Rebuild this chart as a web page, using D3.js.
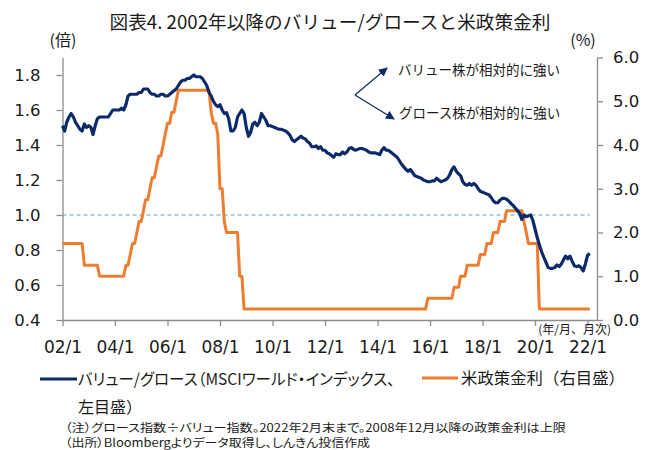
<!DOCTYPE html>
<html>
<head>
<meta charset="utf-8">
<script src="https://cdn.jsdelivr.net/npm/d3@7"></script>
<style>
  body { margin: 0; background: #fff; }
  svg { display: block; }
  .jp { font-family: "Noto Sans CJK JP", sans-serif; fill: #1a1a1a; }
  .palt { font-feature-settings: "palt"; }
  .tick text { font-family: "DejaVu Sans", Verdana, sans-serif; fill: #1a1a1a; }
</style>
</head>
<body>
<div id="chart"></div>
<script>

// value / growth ratio (MSCI World), monthly 2002/1 - 2022/2, left axis
var ratio2002 = [1.51, 1.48, 1.53, 1.56, 1.58, 1.56, 1.53, 1.51, 1.49, 1.48, 1.52, 1.50];
var ratio2003 = [1.51, 1.50, 1.46, 1.51, 1.55, 1.56, 1.56, 1.56, 1.56, 1.56, 1.58, 1.60];
var ratio2004 = [1.60, 1.60, 1.60, 1.61, 1.60, 1.63, 1.68, 1.69, 1.69, 1.69, 1.69, 1.70];
var ratio2005 = [1.70, 1.72, 1.72, 1.72, 1.70, 1.69, 1.69, 1.68, 1.68, 1.69, 1.69, 1.68];
var ratio2006 = [1.68, 1.69, 1.70, 1.71, 1.72, 1.74, 1.76, 1.77, 1.77, 1.78, 1.78, 1.79];
var ratio2007 = [1.80, 1.79, 1.79, 1.79, 1.78, 1.76, 1.74, 1.70, 1.68, 1.65, 1.63, 1.62];
var ratio2008 = [1.63, 1.60, 1.58, 1.585, 1.55, 1.48, 1.48, 1.50, 1.56, 1.58, 1.60, 1.58];
var ratio2009 = [1.50, 1.45, 1.47, 1.52, 1.53, 1.51, 1.53, 1.58, 1.56, 1.54, 1.51, 1.51];
var ratio2010 = [1.505, 1.50, 1.495, 1.49, 1.49, 1.485, 1.48, 1.47, 1.455, 1.43, 1.42, 1.43];
var ratio2011 = [1.44, 1.45, 1.44, 1.435, 1.42, 1.41, 1.39, 1.39, 1.395, 1.38, 1.39, 1.37];
var ratio2012 = [1.37, 1.355, 1.35, 1.34, 1.33, 1.35, 1.345, 1.345, 1.36, 1.35, 1.36, 1.38];
var ratio2013 = [1.385, 1.375, 1.37, 1.375, 1.38, 1.38, 1.375, 1.37, 1.36, 1.355, 1.355, 1.355];
var ratio2014 = [1.35, 1.345, 1.37, 1.385, 1.37, 1.37, 1.36, 1.35, 1.34, 1.33, 1.31, 1.29];
var ratio2015 = [1.275, 1.26, 1.25, 1.26, 1.245, 1.225, 1.22, 1.215, 1.21, 1.20, 1.195, 1.19];
var ratio2016 = [1.19, 1.195, 1.195, 1.21, 1.20, 1.19, 1.195, 1.20, 1.21, 1.23, 1.26, 1.275];
var ratio2017 = [1.25, 1.235, 1.225, 1.19, 1.175, 1.17, 1.18, 1.17, 1.18, 1.17, 1.15, 1.135];
var ratio2018 = [1.13, 1.125, 1.12, 1.115, 1.10, 1.08, 1.07, 1.07, 1.085, 1.095, 1.095, 1.09];
var ratio2019 = [1.08, 1.065, 1.055, 1.04, 1.025, 1.01, 0.975, 1.0, 0.99, 0.995, 1.0, 0.97];
var ratio2020 = [0.92, 0.87, 0.83, 0.79, 0.76, 0.73, 0.70, 0.695, 0.695, 0.70, 0.715, 0.705];
var ratio2021 = [0.72, 0.745, 0.765, 0.75, 0.765, 0.735, 0.71, 0.705, 0.71, 0.70, 0.68, 0.72];
var ratio2022 = [0.77, 0.78];

// US policy rate (upper bound from 2008/12), monthly, right axis
var rate2002 = [1.75, 1.75, 1.75, 1.75, 1.75, 1.75, 1.75, 1.75, 1.75, 1.75, 1.25, 1.25];
var rate2003 = [1.25, 1.25, 1.25, 1.25, 1.25, 1.00, 1.00, 1.00, 1.00, 1.00, 1.00, 1.00];
var rate2004 = [1.00, 1.00, 1.00, 1.00, 1.00, 1.25, 1.25, 1.50, 1.75, 1.75, 2.00, 2.25];
var rate2005 = [2.25, 2.50, 2.75, 2.75, 3.00, 3.25, 3.25, 3.50, 3.75, 3.75, 4.00, 4.25];
var rate2006 = [4.50, 4.50, 4.75, 4.75, 5.00, 5.25, 5.25, 5.25, 5.25, 5.25, 5.25, 5.25];
var rate2007 = [5.25, 5.25, 5.25, 5.25, 5.25, 5.25, 5.25, 5.25, 4.75, 4.50, 4.50, 4.25];
var rate2008 = [3.00, 3.00, 2.25, 2.00, 2.00, 2.00, 2.00, 2.00, 2.00, 1.00, 1.00, 0.25];
var rate2009 = [0.25, 0.25, 0.25, 0.25, 0.25, 0.25, 0.25, 0.25, 0.25, 0.25, 0.25, 0.25];
var rate2010 = [0.25, 0.25, 0.25, 0.25, 0.25, 0.25, 0.25, 0.25, 0.25, 0.25, 0.25, 0.25];
var rate2011 = [0.25, 0.25, 0.25, 0.25, 0.25, 0.25, 0.25, 0.25, 0.25, 0.25, 0.25, 0.25];
var rate2012 = [0.25, 0.25, 0.25, 0.25, 0.25, 0.25, 0.25, 0.25, 0.25, 0.25, 0.25, 0.25];
var rate2013 = [0.25, 0.25, 0.25, 0.25, 0.25, 0.25, 0.25, 0.25, 0.25, 0.25, 0.25, 0.25];
var rate2014 = [0.25, 0.25, 0.25, 0.25, 0.25, 0.25, 0.25, 0.25, 0.25, 0.25, 0.25, 0.25];
var rate2015 = [0.25, 0.25, 0.25, 0.25, 0.25, 0.25, 0.25, 0.25, 0.25, 0.25, 0.25, 0.50];
var rate2016 = [0.50, 0.50, 0.50, 0.50, 0.50, 0.50, 0.50, 0.50, 0.50, 0.50, 0.50, 0.75];
var rate2017 = [0.75, 0.75, 1.00, 1.00, 1.00, 1.25, 1.25, 1.25, 1.25, 1.25, 1.25, 1.50];
var rate2018 = [1.50, 1.50, 1.75, 1.75, 1.75, 2.00, 2.00, 2.00, 2.25, 2.25, 2.25, 2.50];
var rate2019 = [2.50, 2.50, 2.50, 2.50, 2.50, 2.50, 2.50, 2.25, 2.00, 1.75, 1.75, 1.75];
var rate2020 = [1.75, 1.75, 0.25, 0.25, 0.25, 0.25, 0.25, 0.25, 0.25, 0.25, 0.25, 0.25];
var rate2021 = [0.25, 0.25, 0.25, 0.25, 0.25, 0.25, 0.25, 0.25, 0.25, 0.25, 0.25, 0.25];
var rate2022 = [0.25, 0.25];

var leftTicks  = [0.4, 0.6, 0.8, 1.0, 1.2, 1.4, 1.6, 1.8];
var rightTicks = [0, 1, 2, 3, 4, 5, 6];
var xTickYears = [2002, 2004, 2006, 2008, 2010, 2012, 2014, 2016, 2018, 2020, 2022];
var parityLevel = 1.0;

var titleText  = "図表4. 2002年以降のバリュー/グロースと米政策金利";
var leftUnit   = "(倍)";
var rightUnit  = "(%)";
var xUnit      = "(年/月、月次)";
var upperNote  = "バリュー株が相対的に強い";
var lowerNote  = "グロース株が相対的に強い";
var legendRatio1 = "バリュー/グロース（MSCIワールド・インデックス、";
var legendRatio2 = "左目盛）";
var legendRate   = "米政策金利（右目盛）";
var footNote1 = "（注）グロース指数÷バリュー指数。2022年2月末まで。2008年12月以降の政策金利は上限";
var footNote2 = "（出所）Bloombergよりデータ取得し、しんきん投信作成";

var ratioValues = [].concat(ratio2002, ratio2003, ratio2004, ratio2005, ratio2006, ratio2007,
  ratio2008, ratio2009, ratio2010, ratio2011, ratio2012, ratio2013, ratio2014, ratio2015,
  ratio2016, ratio2017, ratio2018, ratio2019, ratio2020, ratio2021, ratio2022);
var rateValues = [].concat(rate2002, rate2003, rate2004, rate2005, rate2006, rate2007,
  rate2008, rate2009, rate2010, rate2011, rate2012, rate2013, rate2014, rate2015,
  rate2016, rate2017, rate2018, rate2019, rate2020, rate2021, rate2022);
var months = ratioValues.map(function(d, i) { return new Date(2002, i, 1); });

var navy   = "#0c2a6a";
var orange = "#ed7d31";
var grey   = "#8c8c8c";

var W = 651, H = 450;
var plot = { left: 62.5, right: 597, top: 57.5, bottom: 320 };

var svg = d3.select("#chart")
  .append("svg")
  .attr("width", W)
  .attr("height", H);

var x = d3.scaleTime()
  .domain([new Date(2002, 0, 1), new Date(2022, 4, 12)])
  .range([plot.left, plot.right]);
var yL = d3.scaleLinear().domain([0.4, 1.9]).range([plot.bottom, plot.top]);
var yR = d3.scaleLinear().domain([0, 6]).range([plot.bottom, plot.top]);

// helper for the Japanese labels; width is forced where the original font is narrower
function addText(str, px, py, size, opts) {
  opts = opts || {};
  var t = svg.append("text")
    .attr("class", "jp" + (opts.palt ? " palt" : ""))
    .attr("x", px)
    .attr("y", py)
    .attr("font-size", size)
    .attr("text-anchor", opts.anchor || "start")
    .text(str);
  if (opts.width) {
    t.attr("textLength", opts.width).attr("lengthAdjust", "spacingAndGlyphs");
  }
  return t;
}

// Title
addText(titleText, 330, 29, 18.5, { anchor: "middle", width: 441 });

// Unit labels
addText(leftUnit, 63, 46, 16, { anchor: "middle" });
addText(rightUnit, 583, 46, 16, { anchor: "middle" });

// Axes
function styleAxis(g) {
  g.selectAll("path").attr("stroke", grey).attr("stroke-width", 1.3);
  g.selectAll("line").attr("stroke", grey).attr("stroke-width", 1.3);
  g.selectAll("text").attr("font-size", 16.5).attr("fill", "#1a1a1a");
}

svg.append("g")
  .attr("transform", "translate(" + plot.left + ",0)")
  .call(d3.axisLeft(yL).tickValues(leftTicks).tickSize(6).tickSizeOuter(0).tickPadding(16)
    .tickFormat(d3.format(".1f")))
  .call(styleAxis);

svg.append("g")
  .attr("transform", "translate(" + plot.right + ",0)")
  .call(d3.axisRight(yR).tickValues(rightTicks).tickSize(6).tickSizeOuter(0).tickPadding(10)
    .tickFormat(d3.format(".1f")))
  .call(styleAxis);

var xAxis = svg.append("g")
  .attr("transform", "translate(0," + plot.bottom + ")")
  .call(d3.axisBottom(x)
    .tickValues(xTickYears.map(function(y) { return new Date(y, 0, 1); }))
    .tickSize(6).tickSizeOuter(0).tickPadding(15)
    .tickFormat(function(d) { return d3.timeFormat("%y")(d) + "/1"; }))
  .call(styleAxis);
xAxis.selectAll("text").attr("font-size", 17);

addText(xUnit, 611, 334, 12, { anchor: "end" });

// Parity line at 1.0
svg.append("path")
  .datum(months)
  .attr("fill", "none")
  .attr("stroke", "#5b9bd5")
  .attr("stroke-width", 1)
  .attr("stroke-dasharray", "4,3")
  .attr("d", d3.line()
    .x(function(d) { return x(d); })
    .y(function() { return yL(parityLevel); }));

// Policy rate
svg.append("path")
  .datum(rateValues)
  .attr("fill", "none")
  .attr("stroke", orange)
  .attr("stroke-width", 3)
  .attr("stroke-linejoin", "round")
  .attr("d", d3.line()
    .x(function(d, i) { return x(months[i]); })
    .y(function(d) { return yR(d); }));

// Value / growth ratio
svg.append("path")
  .datum(ratioValues)
  .attr("fill", "none")
  .attr("stroke", navy)
  .attr("stroke-width", 3.2)
  .attr("stroke-linejoin", "round")
  .attr("d", d3.line()
    .x(function(d, i) { return x(months[i]); })
    .y(function(d) { return yL(d); }));

// Annotation arrows
svg.append("defs")
  .append("marker")
  .attr("id", "arrowHead")
  .attr("viewBox", "0 0 10 10")
  .attr("refX", 9).attr("refY", 5)
  .attr("markerWidth", 9).attr("markerHeight", 9)
  .attr("markerUnits", "userSpaceOnUse")
  .attr("orient", "auto")
  .append("path")
  .attr("d", "M0,0 L10,5 L0,10 Z")
  .attr("fill", navy);

var arrowBase = [355, 95];
[[387, 68], [394, 119]].forEach(function(p) {
  svg.append("line")
    .attr("x1", arrowBase[0]).attr("y1", arrowBase[1])
    .attr("x2", p[0]).attr("y2", p[1])
    .attr("stroke", navy)
    .attr("stroke-width", 1.2)
    .attr("marker-end", "url(#arrowHead)");
});

addText(upperNote, 398, 75, 13.5);
addText(lowerNote, 399, 118, 13.5);

// Legend
svg.append("line")
  .attr("x1", 40).attr("x2", 77).attr("y1", 379).attr("y2", 379)
  .attr("stroke", navy).attr("stroke-width", 3);
addText(legendRatio1, 78, 385, 16, { palt: true, width: 317 });
addText(legendRatio2, 78, 413, 16);

svg.append("line")
  .attr("x1", 422).attr("x2", 458).attr("y1", 378).attr("y2", 378)
  .attr("stroke", orange).attr("stroke-width", 3);
addText(legendRate, 461, 384, 16, { width: 164 });

// Notes
addText(footNote1, 65, 431.5, 11.5, { palt: true, width: 501 });
addText(footNote2, 65, 447, 11.5, { palt: true, width: 305 });

</script>
</body>
</html>
